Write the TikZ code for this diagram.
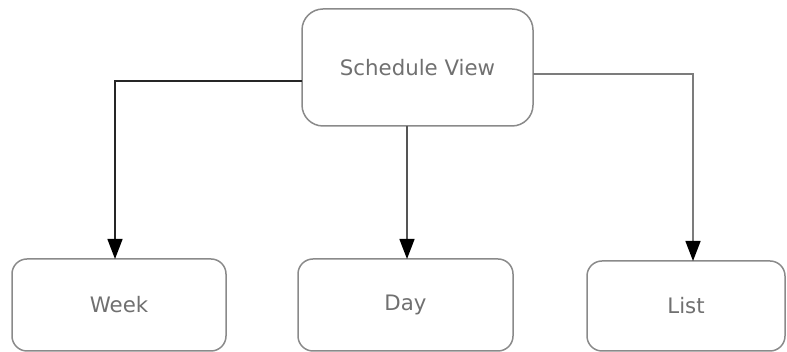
\documentclass[tikz,border=0pt]{standalone}
\usepackage{fontspec}
\setmainfont{DejaVu Sans}
\usetikzlibrary{arrows.meta}
\definecolor{boxline}{HTML}{8A8A8A}
\definecolor{labeltext}{HTML}{707070}
\definecolor{linkline}{HTML}{555555}
\tikzset{
  viewbox/.style={draw=boxline, line width=1.5pt, fill=white, inner sep=0pt, outer sep=0pt,
    text=labeltext, font=\fontsize{21.3pt}{25pt}\selectfont},
  topbox/.style={viewbox, rounded corners=21pt, minimum width=231pt, minimum height=117pt},
  leafbox/.style={viewbox, rounded corners=15pt, minimum height=92pt},
  link/.style={draw=linkline, line width=1.4pt,
    -{Triangle[length=20pt,width=15pt,color=black,fill=black]}}
}
\begin{document}
\begin{tikzpicture}[x=1pt,y=1pt]
  \useasboundingbox (0,0) rectangle (787,352);
  % parent node
  \node[topbox] (sv) at (417.5,284.5) {Schedule View};
  % child views
  \node[leafbox, minimum width=214pt] (week) at (119,47) {Week};
  \node[leafbox, minimum width=215pt] (day) at (405.5,47) {Day};
  \node[leafbox, minimum width=198pt, minimum height=90pt] (list) at (686,46) {List};
  % connectors from the parent to each child
  \draw[link, draw=black!85] ([yshift=-13.5pt]sv.west) -| ([xshift=-4pt]week.north);
  \draw[link] (sv.south -| 407,0) -- (day.north -| 407,0);
  \draw[link, draw=boxline!90!black] ([yshift=-6.5pt]sv.east) -| ([xshift=7pt]list.north);
\end{tikzpicture}
\end{document}
